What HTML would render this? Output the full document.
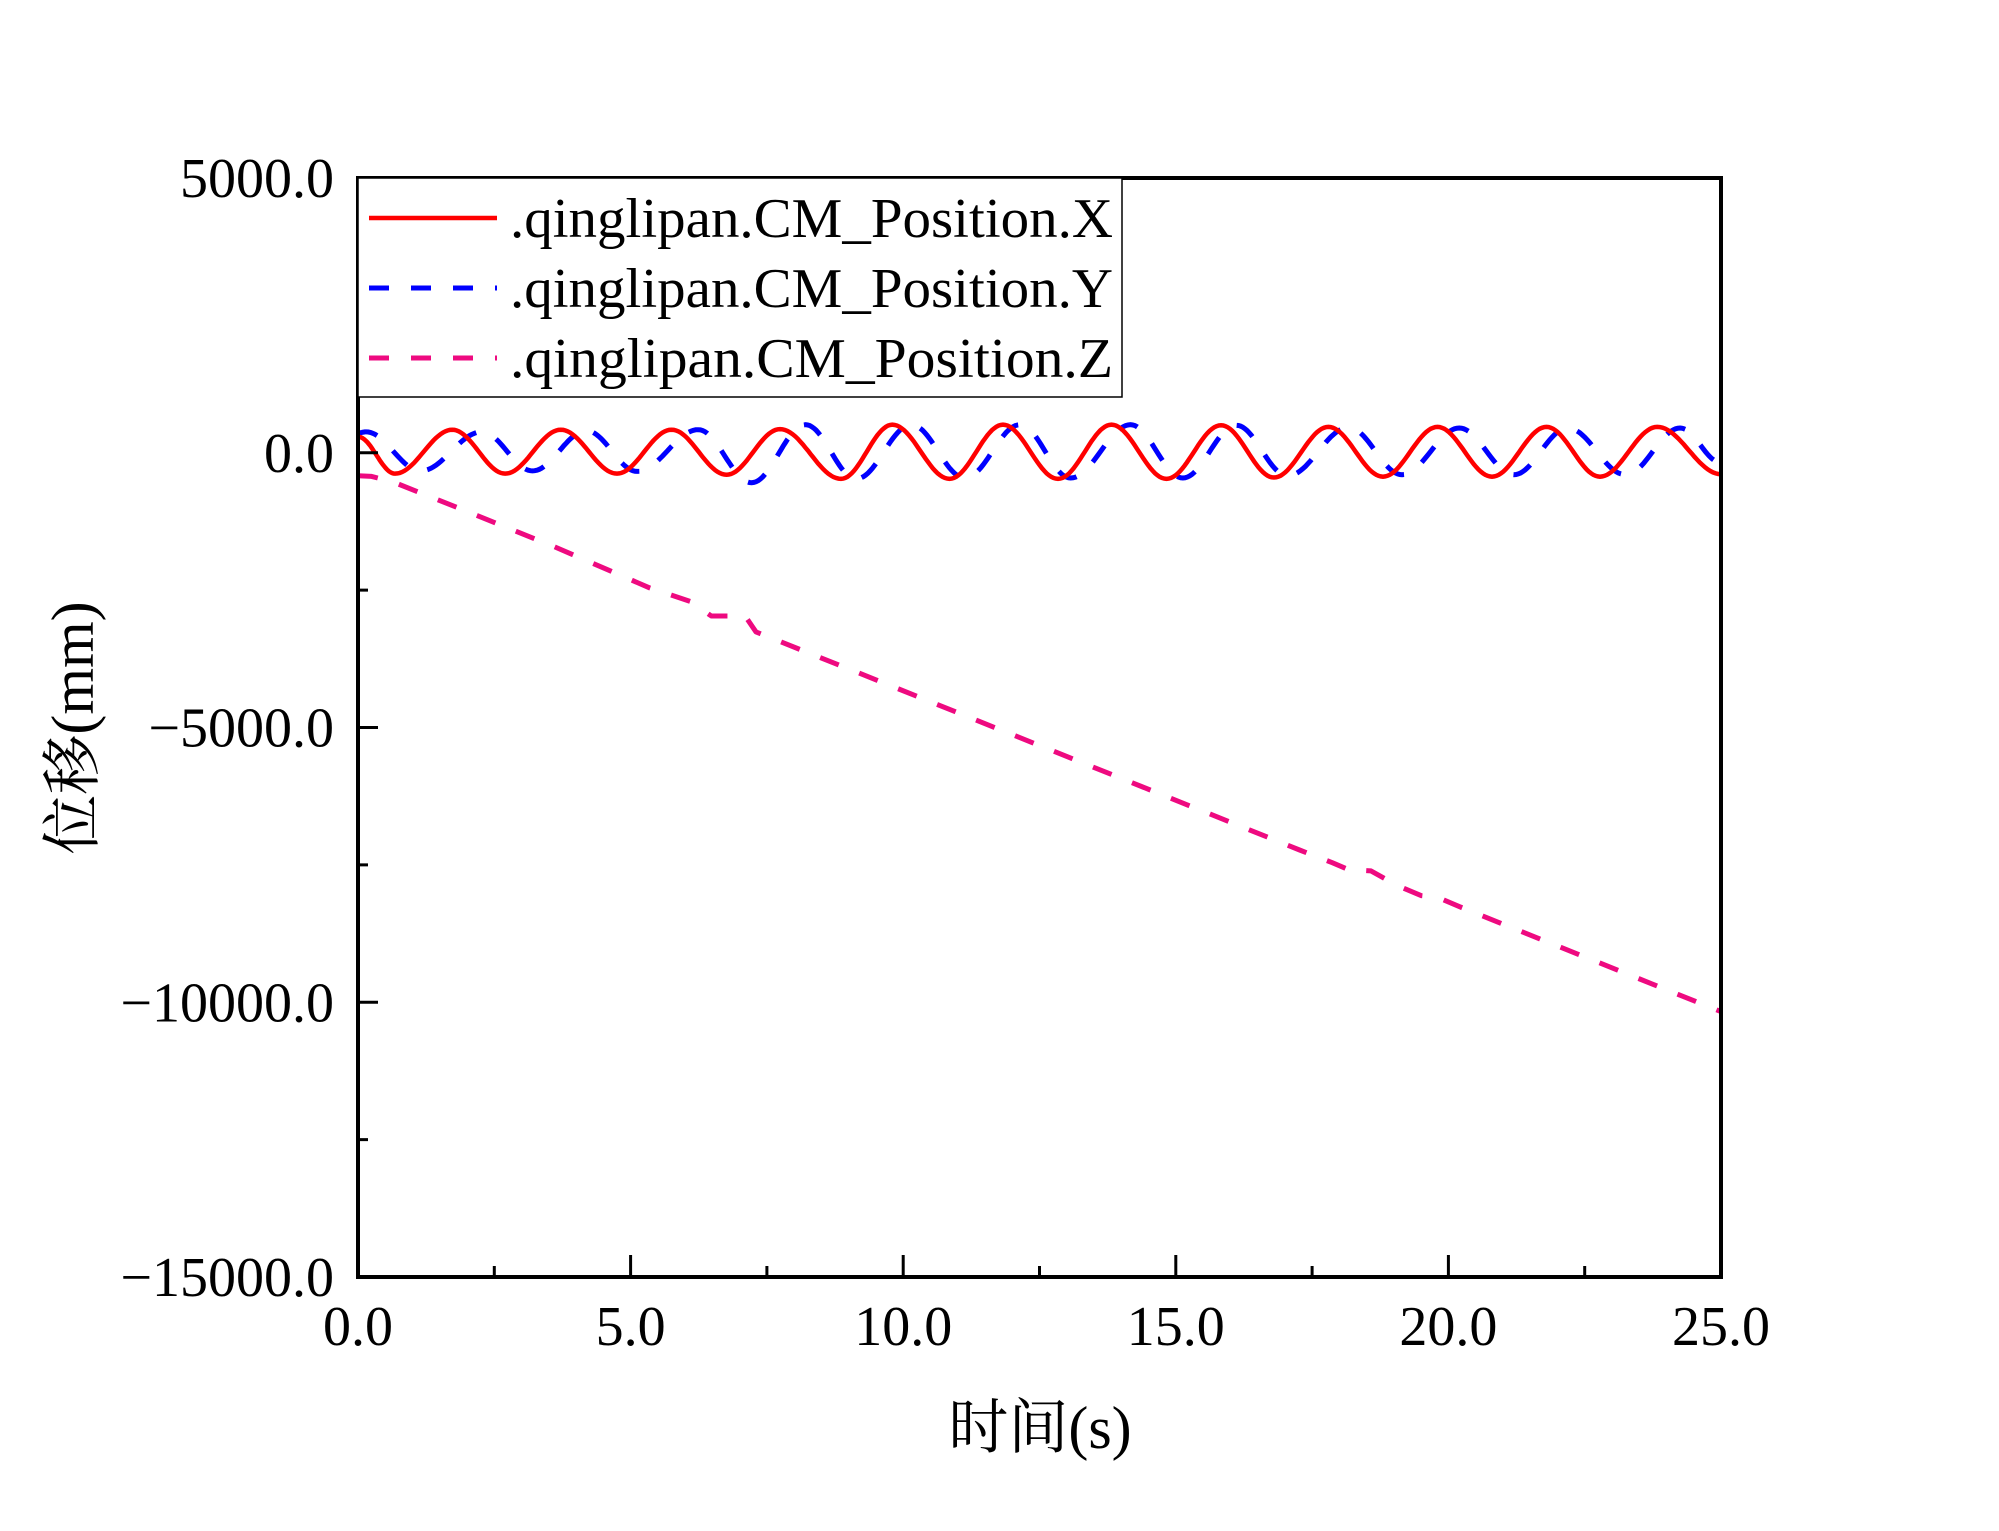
<!DOCTYPE html>
<html><head><meta charset="utf-8">
<style>
html,body{margin:0;padding:0;background:#fff;}
svg{display:block;}
text{font-family:"Liberation Serif","Noto Serif CJK SC",serif;fill:#000;}
</style></head>
<body>
<svg id="chart" width="1999" height="1531" viewBox="0 0 1999 1531" xmlns="http://www.w3.org/2000/svg">
<g id="plot"></g>
<g id="axes"></g>
<g id="legend"></g>
</svg>
<script>
// ---- data ----
const xTickValues = [0, 5, 10, 15, 20, 25];
const xTickLabels = ["0.0", "5.0", "10.0", "15.0", "20.0", "25.0"];
const yTickValues = [5000, 0, -5000, -10000, -15000];
const yTickLabels = ["5000.0", "0.0", "\u22125000.0", "\u221210000.0", "\u221215000.0"];
// X series: extrema (time, value)
const xSeriesT = [0, 0.68, 1.73, 2.7, 3.72, 4.75, 5.75, 6.76, 7.74, 8.86, 9.8, 10.85, 11.83, 12.84, 13.82, 14.83, 15.83, 16.8, 17.8, 18.8, 19.8, 20.8, 21.8, 22.78, 23.83, 25];
const xSeriesV = [290, -380, 419, -380, 419, -380, 419, -400, 430, -475, 510, -475, 510, -475, 510, -475, 500, -450, 470, -435, 470, -435, 470, -435, 470, -390];
// Y series: extrema (time, value)
const ySeriesT = [0, 0.15, 1.15, 2.27, 3.2, 4.19, 5.12, 6.24, 7.22, 8.21, 9.14, 10.15, 11.13, 12.14, 13.07, 14.17, 15.13, 16.11, 17.05, 18.17, 19.15, 20.2, 21.2, 22.19, 23.25, 24.25, 25];
const ySeriesV = [360, 380, -330, 380, -330, 400, -340, 420, -545, 510, -475, 510, -460, 510, -460, 510, -460, 500, -420, 460, -400, 450, -400, 450, -400, 450, -180];
// Z series: sample points (time, value)
const zSeriesT = [0, 0.25, 0.64, 1.83, 3.6, 5.35, 6.11, 6.48, 7.1, 7.3, 7.45, 9.12, 17.27, 17.87, 18.3, 18.42, 18.58, 19.05, 19.5, 19.8, 20.2, 25];
const zSeriesV = [-420, -430, -530, -1000, -1710, -2460, -2710, -2970, -2970, -3260, -3320, -3980, -7230, -7460, -7640, -7600, -7610, -7870, -8060, -8090, -8260, -10170];

// ---- layout ----
const L = 358, R = 1721, T = 178, B = 1277;
const xMin = 0, xMax = 25, yMin = -15000, yMax = 5000;
const sx = t => L + (t - xMin) / (xMax - xMin) * (R - L);
const sy = v => T + (yMax - v) / (yMax - yMin) * (B - T);
const NS = "http://www.w3.org/2000/svg";
function mk(tag, attrs, parent) {
  const e = document.createElementNS(NS, tag);
  for (const k in attrs) e.setAttribute(k, attrs[k]);
  parent.appendChild(e);
  return e;
}
const plot = document.getElementById('plot');
const axes = document.getElementById('axes');
const legend = document.getElementById('legend');

mk('clipPath', {id: 'clip'}, plot);
mk('rect', {x: L, y: T, width: R - L, height: B - T}, document.getElementById('clip'));

function wavePath(ts, vs) {
  let d = '';
  for (let i = 0; i < ts.length - 1; i++) {
    const n = 24;
    for (let k = 0; k <= n; k++) {
      if (i > 0 && k === 0) continue;
      const s = k / n;
      const t = ts[i] + (ts[i + 1] - ts[i]) * s;
      const v = vs[i] + (vs[i + 1] - vs[i]) * (1 - Math.cos(Math.PI * s)) / 2;
      d += (d ? 'L' : 'M') + sx(t).toFixed(1) + ',' + sy(v).toFixed(1);
    }
  }
  return d;
}
function linePath(ts, vs) {
  return ts.map((t, i) => (i ? 'L' : 'M') + sx(t).toFixed(1) + ',' + sy(vs[i]).toFixed(1)).join('');
}

const gz = mk('g', {'clip-path': 'url(#clip)'}, plot);
const pz = mk('path', {d: linePath(zSeriesT, zSeriesV), fill: 'none', stroke: '#ee0a80', 'stroke-width': 5, 'stroke-dasharray': '20 22', 'stroke-linejoin': 'round'}, gz);


const py = mk('path', {d: wavePath(ySeriesT, ySeriesV), fill: 'none', stroke: '#0000ff', 'stroke-width': 5, 'stroke-dasharray': '20 22'}, gz);


const px = mk('path', {d: wavePath(xSeriesT, xSeriesV), fill: 'none', stroke: '#ff0000', 'stroke-width': 4.5}, gz);



// ---- axes ----
const frame = mk('rect', {x: L, y: T, width: R - L, height: B - T, fill: 'none', stroke: '#000', 'stroke-width': 4}, axes);



xTickValues.forEach((v, i) => {
  const x = sx(v);
  const tk = mk('line', {x1: x, x2: x, y1: B, y2: B - 22, stroke: '#000', 'stroke-width': 3}, axes);
  
  
  if (i < xTickValues.length - 1) {
    const xm = sx(v + 2.5);
    const mt = mk('line', {x1: xm, x2: xm, y1: B, y2: B - 11, stroke: '#000', 'stroke-width': 3}, axes);
    
    
  }
  const lb = mk('text', {x: x, y: 1345, 'font-size': 56, 'text-anchor': 'middle'}, axes);
  lb.textContent = xTickLabels[i];
  
  
});
yTickValues.forEach((v, i) => {
  const y = sy(v);
  const tk = mk('line', {x1: L, x2: L + 20, y1: y, y2: y, stroke: '#000', 'stroke-width': 3}, axes);
  
  
  if (i < yTickValues.length - 1) {
    const ym = sy(v - 2500);
    const mt = mk('line', {x1: L, x2: L + 10, y1: ym, y2: ym, stroke: '#000', 'stroke-width': 3}, axes);
    
    
  }
  const lb = mk('text', {x: 334, y: y + 19, 'font-size': 56, 'text-anchor': 'end'}, axes);
  lb.textContent = yTickLabels[i];
  
  
});
const xt = mk('text', {x: 1040, y: 1448, 'font-size': 60, 'text-anchor': 'middle'}, axes);
xt.textContent = '时间(s)';


const yt = mk('text', {x: 0, y: 0, 'font-size': 60, 'text-anchor': 'middle', transform: 'translate(93,728) rotate(-90)'}, axes);
yt.textContent = '位移(mm)';



// ---- legend ----
const lbox = mk('rect', {x: L, y: T, width: 1122 - L, height: 397 - T, fill: '#fff', stroke: '#000', 'stroke-width': 1.5}, legend);


const legNames = ['.qinglipan.CM_Position.X', '.qinglipan.CM_Position.Y', '.qinglipan.CM_Position.Z'];
const legColors = ['#ff0000', '#0000ff', '#ee0a80'];
const legDash = ['none', '20 22', '20 22'];
const legY = [218, 288, 358];
legNames.forEach((n, i) => {
  const ln = mk('line', {x1: 369, x2: 497, y1: legY[i], y2: legY[i], stroke: legColors[i], 'stroke-width': i ? 5 : 4.5, 'stroke-dasharray': legDash[i]}, legend);
  
  
  const tx = mk('text', {x: 510, y: legY[i] + 19, 'font-size': 56, textLength: 603, lengthAdjust: 'spacingAndGlyphs'}, legend);
  tx.textContent = n;
  
  
});
</script>
</body></html>
